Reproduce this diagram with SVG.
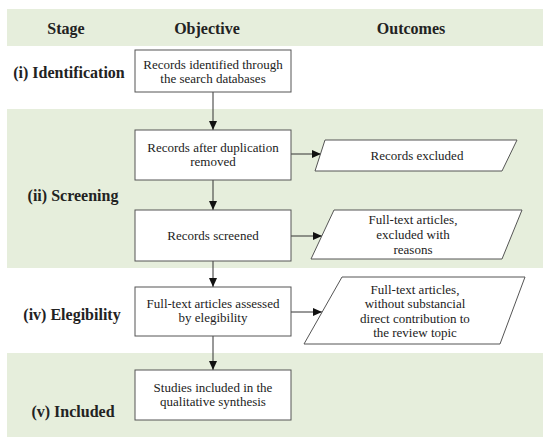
<svg xmlns="http://www.w3.org/2000/svg" width="550" height="445" viewBox="0 0 550 445">
<style>
.band{fill:#e6eedc;stroke:none}
.box{fill:#ffffff;stroke:#555555;stroke-width:1}
.hdr{font-family:'Liberation Serif','Times New Roman','DejaVu Serif',serif;font-weight:bold;font-size:16px;fill:#222222;text-anchor:middle}
.lbl{font-family:'Liberation Serif','Times New Roman','DejaVu Serif',serif;font-weight:bold;font-size:16px;fill:#222222;text-anchor:middle}
.txt{font-family:'Liberation Serif','Times New Roman','DejaVu Serif',serif;font-size:13px;fill:#222222;text-anchor:middle}
.con{fill:none;stroke:#333333;stroke-width:1}
</style>
<defs>
<marker id="ah" markerUnits="userSpaceOnUse" markerWidth="9" markerHeight="8" refX="9" refY="4" orient="auto">
<path d="M0,0 L9,4 L0,8 z" fill="#111111"/>
</marker>
</defs>
<rect width="550" height="445" fill="#ffffff"/>
<g id="bands">
<rect class="band" x="7" y="9" width="536" height="37"/>
<rect class="band" x="7" y="109" width="536" height="159"/>
<rect class="band" x="7" y="353" width="536" height="84"/>
</g>
<g id="headers">
<text class="hdr" x="66" y="34">Stage</text>
<text class="hdr" x="207" y="34">Objective</text>
<text class="hdr" x="411" y="34">Outcomes</text>
</g>
<g id="stages">
<text class="lbl" x="69" y="78">(i) Identification</text>
<text class="lbl" x="73" y="201">(ii) Screening</text>
<text class="lbl" x="72" y="320">(iv) Elegibility</text>
<text class="lbl" x="73" y="417">(v) Included</text>
</g>
<g id="connectors">
<line class="con" x1="213" y1="92" x2="213" y2="130" marker-end="url(#ah)"/>
<line class="con" x1="213" y1="180" x2="213" y2="210" marker-end="url(#ah)"/>
<line class="con" x1="213" y1="261" x2="213" y2="287" marker-end="url(#ah)"/>
<line class="con" x1="213" y1="336" x2="213" y2="370" marker-end="url(#ah)"/>
<line class="con" x1="291" y1="154" x2="321" y2="154" marker-end="url(#ah)"/>
<line class="con" x1="291" y1="236" x2="322" y2="236" marker-end="url(#ah)"/>
<line class="con" x1="291" y1="312" x2="322" y2="312" marker-end="url(#ah)"/>
</g>
<g id="n1">
<rect class="box" x="135" y="50" width="156" height="42"/>
<text class="txt" x="213" y="69">Records identified through</text>
<text class="txt" x="213" y="83">the search databases</text>
</g>
<g id="n2">
<rect class="box" x="135" y="130" width="156" height="50"/>
<text class="txt" x="213" y="152">Records after duplication</text>
<text class="txt" x="213" y="166">removed</text>
</g>
<g id="n3">
<rect class="box" x="135" y="210" width="156" height="51"/>
<text class="txt" x="213" y="240">Records screened</text>
</g>
<g id="n4">
<rect class="box" x="135" y="287" width="156" height="49"/>
<text class="txt" x="213" y="308">Full-text articles assessed</text>
<text class="txt" x="213" y="322">by elegibility</text>
</g>
<g id="n5">
<rect class="box" x="135" y="370" width="156" height="50"/>
<text class="txt" x="213" y="392">Studies included in the</text>
<text class="txt" x="213" y="406">qualitative synthesis</text>
</g>
<g id="o1">
<polygon class="box" points="325,140 517,140 502,171 315,171"/>
<text class="txt" x="417" y="160">Records excluded</text>
</g>
<g id="o2">
<polygon class="box" points="334,210 522,210 502,259 311,259"/>
<text class="txt" x="413" y="224">Full-text articles,</text>
<text class="txt" x="413" y="239">excluded with</text>
<text class="txt" x="413" y="254">reasons</text>
</g>
<g id="o3">
<polygon class="box" points="342,277 525,277 500,344 304,344"/>
<text class="txt" x="415" y="294">Full-text articles,</text>
<text class="txt" x="415" y="308">without substancial</text>
<text class="txt" x="415" y="323">direct contribution to</text>
<text class="txt" x="415" y="337">the review topic</text>
</g>
</svg>
